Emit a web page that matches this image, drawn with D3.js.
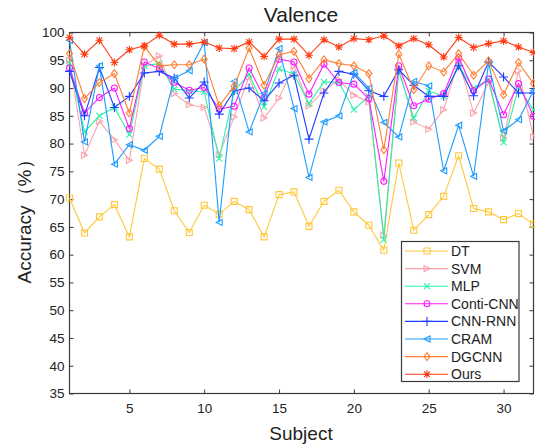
<!DOCTYPE html>
<html>
<head>
<meta charset="utf-8">
<script src="https://cdn.jsdelivr.net/npm/d3@7"></script>
<style>
  body { margin: 0; background: #fff; }
  text { font-family: "Liberation Sans", Arial, sans-serif; fill: #222; }
</style>
</head>
<body>
<svg id="chart" width="535" height="447"></svg>
<script>
const subjects = d3.range(1, 33);
const yTicks = [35, 40, 45, 50, 55, 60, 65, 70, 75, 80, 85, 90, 95, 100];
const xTicks = [5, 10, 15, 20, 25, 30];

const seriesNames = ["DT", "SVM", "MLP", "Conti-CNN", "CNN-RNN", "CRAM", "DGCNN", "Ours"];

const dt = [70.2, 63.9, 66.8, 69.0, 63.2, 77.3, 75.4, 67.9, 64.0, 68.9, 67.3, 69.6, 68.1, 63.2, 70.8, 71.3,
  65.1, 69.6, 71.6, 67.7, 65.3, 60.8, 76.5, 64.4, 67.2, 70.5, 77.8, 68.3, 67.7, 66.3, 67.4, 65.5];
const svm = [95.0, 77.9, 84.0, 80.7, 77.0, 94.0, 95.8, 89.0, 87.0, 86.5, 78.0, 84.8, 92.0, 84.6, 88.2, 94.0,
  86.8, 89.5, 91.5, 88.7, 87.5, 63.5, 93.5, 83.9, 82.6, 86.1, 95.0, 85.5, 91.0, 81.0, 93.1, 81.2];
const mlp = [94.5, 82.1, 85.0, 86.5, 81.6, 94.0, 94.4, 89.8, 89.5, 89.3, 77.3, 89.5, 92.5, 86.6, 93.5, 92.5,
  87.2, 91.1, 91.0, 86.1, 88.5, 62.7, 93.0, 84.6, 89.5, 88.5, 94.0, 90.0, 91.5, 80.2, 90.0, 86.1];
const contiCnn = [93.6, 85.5, 88.3, 90.0, 82.7, 94.7, 93.5, 91.0, 89.6, 90.1, 86.2, 86.7, 93.6, 88.3, 95.2, 94.7,
  88.9, 94.3, 91.0, 90.7, 88.1, 73.2, 94.0, 86.8, 88.0, 89.0, 95.5, 89.5, 91.6, 85.2, 90.8, 84.9];
const cnnRnn = [93.0, 85.0, 93.7, 86.5, 88.5, 92.7, 93.0, 91.8, 88.2, 91.1, 85.3, 89.5, 90.0, 87.7, 90.9, 92.3,
  80.8, 89.1, 93.0, 92.5, 89.5, 88.5, 93.3, 90.5, 88.5, 88.5, 94.0, 88.6, 94.7, 92.0, 89.1, 89.1];
const cram = [98.6, 80.3, 94.0, 76.3, 79.8, 78.8, 81.3, 91.8, 93.1, 98.2, 65.8, 91.2, 82.1, 89.0, 97.1, 86.3,
  73.9, 83.9, 85.0, 92.8, 90.0, 83.8, 81.2, 91.2, 90.4, 75.1, 83.3, 74.1, 94.5, 82.3, 84.3, 89.5];
const dgcnn = [96.2, 88.1, 91.0, 92.6, 85.5, 97.5, 94.0, 94.2, 94.2, 95.2, 86.8, 90.3, 97.2, 90.5, 96.0, 96.6,
  91.7, 95.1, 94.4, 94.0, 92.6, 78.9, 96.1, 89.7, 94.0, 92.9, 96.2, 92.3, 94.9, 88.8, 94.6, 90.8];
const ours = [99.1, 96.1, 98.6, 94.6, 96.9, 97.6, 99.5, 97.9, 97.9, 98.3, 97.2, 97.1, 98.3, 95.7, 98.8, 98.8,
  95.9, 98.7, 97.4, 98.9, 98.7, 99.4, 97.6, 98.9, 97.8, 95.6, 99.1, 97.3, 98.0, 98.5, 97.4, 96.4];

const allValues = [dt, svm, mlp, contiCnn, cnnRnn, cram, dgcnn, ours];
const colors = ["#ffc83a", "#f9a3aa", "#2bf2a6", "#ff1aff", "#1f3dff", "#1c9cff", "#ff7f33", "#ff3c14"];
const markers = ["square", "triR", "cross", "circle", "plus", "triL", "diamond", "star"];

const svg = d3.select("#chart");
const margin = {left: 69.5, right: 533.5, top: 32.5, bottom: 393.5};

const x = d3.scaleLinear().domain([1, 32]).range([margin.left, margin.right]);
const y = d3.scaleLinear().domain([35, 100]).range([margin.bottom, margin.top]);

// markers drawn as small paths
function markerPath(type, s) {
  const p = d3.path();
  if (type === "square") { p.rect(-s, -s, 2*s, 2*s); }
  else if (type === "circle") { p.arc(0, 0, s, 0, 2*Math.PI); }
  else if (type === "diamond") { p.moveTo(0, -s*1.3); p.lineTo(s, 0); p.lineTo(0, s*1.3); p.lineTo(-s, 0); p.closePath(); }
  else if (type === "triR") { p.moveTo(s, 0); p.lineTo(-s, -s); p.lineTo(-s, s); p.closePath(); }
  else if (type === "triL") { p.moveTo(-s, 0); p.lineTo(s, -s); p.lineTo(s, s); p.closePath(); }
  else if (type === "cross") { p.moveTo(-s, -s); p.lineTo(s, s); p.moveTo(s, -s); p.lineTo(-s, s); }
  else if (type === "plus") { const t = s*1.5; p.moveTo(-t, 0); p.lineTo(t, 0); p.moveTo(0, -t); p.lineTo(0, t); }
  else if (type === "star") {
    const t = s*1.3;
    p.moveTo(-t, 0); p.lineTo(t, 0); p.moveTo(0, -t); p.lineTo(0, t);
    const d = t*0.75;
    p.moveTo(-d, -d); p.lineTo(d, d); p.moveTo(d, -d); p.lineTo(-d, d);
  }
  return p.toString();
}

const axisColor = "#3a3a3a";
const xAxis = svg.append("g").attr("transform", `translate(0,${margin.bottom})`)
  .call(d3.axisBottom(x).tickValues(xTicks).tickSizeInner(-4).tickSizeOuter(0).tickPadding(10));
const xTop = svg.append("g").attr("transform", `translate(0,${margin.top})`)
  .call(d3.axisTop(x).tickValues(xTicks).tickSizeInner(-4).tickSizeOuter(0).tickFormat(""));
const yAxis = svg.append("g").attr("transform", `translate(${margin.left},0)`)
  .call(d3.axisLeft(y).tickValues(yTicks).tickSizeInner(-4).tickSizeOuter(0).tickPadding(5));
const yRight = svg.append("g").attr("transform", `translate(${margin.right},0)`)
  .call(d3.axisRight(y).tickValues(yTicks).tickSizeInner(-4).tickSizeOuter(0).tickFormat(""));

[xAxis, xTop, yAxis, yRight].forEach(g => {
  g.select(".domain").remove();
  g.selectAll(".tick line").attr("stroke", axisColor);
  g.selectAll(".tick text").attr("font-size", 13.5).attr("font-family", "'Liberation Sans', Arial, sans-serif").attr("fill", "#222");
});

svg.append("rect")
  .attr("x", margin.left).attr("y", margin.top)
  .attr("width", margin.right - margin.left).attr("height", margin.bottom - margin.top)
  .attr("fill", "none").attr("stroke", axisColor).attr("stroke-width", 1.2);

// series
const line = d3.line().x((d, i) => x(subjects[i])).y(d => y(d));
const plot = svg.append("g");

allValues.forEach((vals, k) => {
  const g = plot.append("g");
  g.append("path").datum(vals).attr("d", line)
    .attr("fill", "none").attr("stroke", colors[k]).attr("stroke-width", 1.1);
  g.selectAll("path.m").data(vals).join("path").attr("class", "m")
    .attr("transform", (d, i) => `translate(${x(subjects[i])},${y(d)})`)
    .attr("d", markerPath(markers[k], 3))
    .attr("fill", "none").attr("stroke", colors[k]).attr("stroke-width", 1.1);
});

// titles
svg.append("text").attr("x", 301).attr("y", 22).attr("text-anchor", "middle")
  .style("font-size", "21px").text("Valence");
svg.append("text").attr("x", 301).attr("y", 440).attr("text-anchor", "middle")
  .style("font-size", "19px").text("Subject");
svg.append("text").attr("transform", `translate(31,217) rotate(-90)`)
  .attr("text-anchor", "middle").style("font-size", "19px").text("Accuracy（%）");

// legend
const legend = svg.append("g");
legend.append("rect").attr("x", 401.5).attr("y", 241.5).attr("width", 117.5).attr("height", 140)
  .attr("fill", "#fff").attr("stroke", axisColor).attr("stroke-width", 1.2);
seriesNames.forEach((name, k) => {
  const ly = 251 + k * 17.6;
  legend.append("line").attr("x1", 405).attr("x2", 448).attr("y1", ly).attr("y2", ly)
    .attr("stroke", colors[k]).attr("stroke-width", 1.1);
  legend.append("path").attr("transform", `translate(427,${ly})`).attr("d", markerPath(markers[k], 3))
    .attr("fill", "none").attr("stroke", colors[k]).attr("stroke-width", 1.1);
  legend.append("text").attr("x", 451).attr("y", ly + 5).style("font-size", "14px").text(name);
});
</script>
</body>
</html>
